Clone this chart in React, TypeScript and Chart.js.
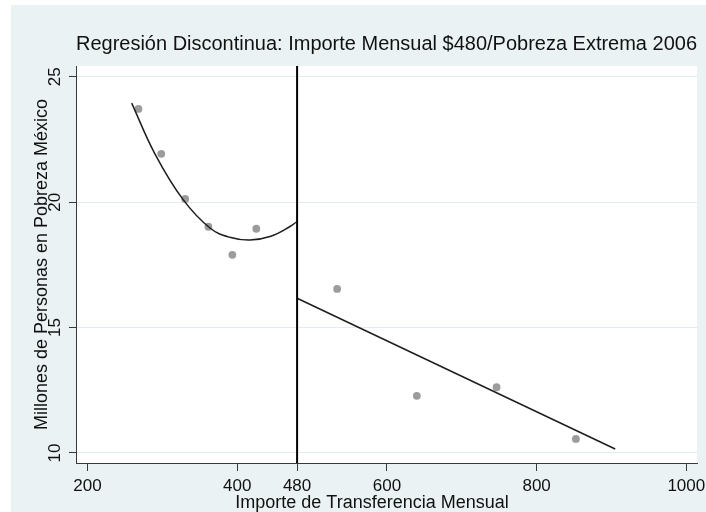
import React, { useEffect, useRef } from "react";
import { Chart, registerables } from "chart.js";

Chart.register(...registerables);

const TITLE = "Regresión Discontinua: Importe Mensual $480/Pobreza Extrema 2006";
const X_TITLE = "Importe de Transferencia Mensual";
const Y_TITLE = "Millones de Personas en Pobreza México";

const DOT_X = [268, 298.5, 330.5, 361.5, 393.5, 425.5, 533.5, 640, 746.5, 852.5];
const DOT_Y = [23.72, 21.93, 20.13, 19.02, 17.9, 18.94, 16.54, 12.28, 12.62, 10.56];

const LEFT_FIT_X = [259, 290, 328, 364, 390, 417, 445, 470, 480];
const LEFT_FIT_Y = [23.95, 21.93, 20.09, 18.96, 18.6, 18.49, 18.64, 19.02, 19.23];

const RIGHT_FIT_X = [480, 905];
const RIGHT_FIT_Y = [16.17, 10.16];

const CUTOFF = 480;

const X_TICKS = [200, 400, 480, 600, 800, 1000];
const Y_TICKS = [10, 15, 20, 25];
const X_MIN = 184.6;
const X_MAX = 1014.3;
const Y_MIN = 9.6;
const Y_MAX = 25.43;

const FONT = '"Liberation Sans", Arial, sans-serif';
const BG = "#eaf2f3";
const AXIS = "#3a3a3a";

const pts = (xs: number[], ys: number[]) => xs.map((x, i) => ({ x, y: ys[i] }));

export default function App() {
  const ref = useRef<HTMLCanvasElement | null>(null);

  useEffect(() => {
    if (!ref.current) return;

    const bgPlugin = {
      id: "bg",
      beforeDraw(chart: any) {
        const { ctx, width, height, chartArea: ca } = chart;
        ctx.save();
        ctx.fillStyle = "#ffffff";
        ctx.fillRect(0, 0, width, height);
        ctx.fillStyle = BG;
        ctx.fillRect(11, 5, width - 11, height - 5);
        ctx.fillStyle = "#ffffff";
        ctx.fillRect(ca.left, ca.top, ca.right - ca.left, ca.bottom - ca.top);
        ctx.restore();
      },
    };

    const xTitlePlugin = {
      id: "xTitle",
      afterDraw(chart: any) {
        const { ctx, chartArea: ca } = chart;
        ctx.save();
        ctx.font = `18px ${FONT}`;
        ctx.fillStyle = "#111";
        ctx.textAlign = "center";
        ctx.textBaseline = "alphabetic";
        ctx.fillText(X_TITLE, (ca.left + ca.right) / 2 - 14.5, 508);
        ctx.restore();
      },
    };

    const chart = new Chart(ref.current, {
      type: "scatter",
      data: {
        datasets: [
          {
            label: "cutoff",
            data: pts([CUTOFF, CUTOFF], [Y_MIN, Y_MAX]),
            showLine: true,
            borderColor: "#000",
            borderWidth: 2,
            pointRadius: 0,
            order: 0,
          } as any,
          {
            label: "left fit",
            data: pts(LEFT_FIT_X, LEFT_FIT_Y),
            showLine: true,
            borderColor: "#1e1e1e",
            borderWidth: 1.5,
            pointRadius: 0,
            tension: 0.4,
            order: 1,
          },
          {
            label: "right fit",
            data: pts(RIGHT_FIT_X, RIGHT_FIT_Y),
            showLine: true,
            borderColor: "#1e1e1e",
            borderWidth: 1.5,
            pointRadius: 0,
            order: 2,
          },
          {
            label: "obs",
            data: pts(DOT_X, DOT_Y),
            showLine: false,
            pointRadius: 3.9,
            pointBackgroundColor: "#9c9c9c",
            pointBorderWidth: 0,
            order: 3,
          },
        ],
      },
      options: {
        animation: false,
        responsive: false,
        devicePixelRatio: 1,
        layout: { autoPadding: false, padding: { left: 0, top: 0, right: 9, bottom: 0 } },
        plugins: {
          legend: { display: false },
          tooltip: { enabled: false },
          title: {
            display: true,
            text: TITLE,
            fullSize: false,
            color: "#111",
            font: { family: FONT, size: 20, weight: "normal" },
            padding: { top: 32.8, bottom: 9.2 },
          },
        },
        scales: {
          x: {
            type: "linear",
            min: X_MIN,
            max: X_MAX,
            afterBuildTicks: (s: any) => {
              s.ticks = X_TICKS.map((v) => ({ value: v }));
            },
            afterFit: (s: any) => {
              s.height = 49;
              s.paddingLeft = 0;
              s.paddingRight = 0;
            },
            ticks: {
              autoSkip: false,
              maxRotation: 0,
              minRotation: 0,
              padding: 5,
              color: "#111",
              font: { family: FONT, size: 17 },
              callback: (v: any) => String(v),
            },
            grid: {
              drawOnChartArea: false,
              drawTicks: true,
              tickLength: 8,
              tickColor: AXIS,
              tickWidth: 1,
            },
            border: { display: true, color: AXIS, width: 1 },
            title: { display: false },
          },
          y: {
            type: "linear",
            min: Y_MIN,
            max: Y_MAX,
            afterBuildTicks: (s: any) => {
              s.ticks = Y_TICKS.map((v) => ({ value: v }));
            },
            afterFit: (s: any) => {
              s.width = 76;
              s.paddingTop = 0;
              s.paddingBottom = 0;
            },
            ticks: {
              autoSkip: false,
              minRotation: 90,
              maxRotation: 90,
              crossAlign: "center",
              padding: 4,
              color: "#111",
              font: { family: FONT, size: 17 },
              callback: (v: any) => String(v),
            },
            grid: {
              color: "#e3edf0",
              lineWidth: 1,
              drawTicks: true,
              tickLength: 7,
              tickColor: AXIS,
              tickWidth: 1,
            },
            border: { display: true, color: AXIS, width: 1 },
            title: {
              display: true,
              text: Y_TITLE,
              color: "#111",
              font: { family: FONT, size: 18 },
              padding: { top: 31, bottom: 0 },
            },
          },
        },
      },
      plugins: [bgPlugin, xTitlePlugin],
    } as any);

    return () => chart.destroy();
  }, []);

  return (
    <div style={{ position: "fixed", left: 0, top: 0, width: 706, height: 512 }}>
      <canvas ref={ref} width={706} height={512} style={{ display: "block", width: 706, height: 512 }} />
    </div>
  );
}
